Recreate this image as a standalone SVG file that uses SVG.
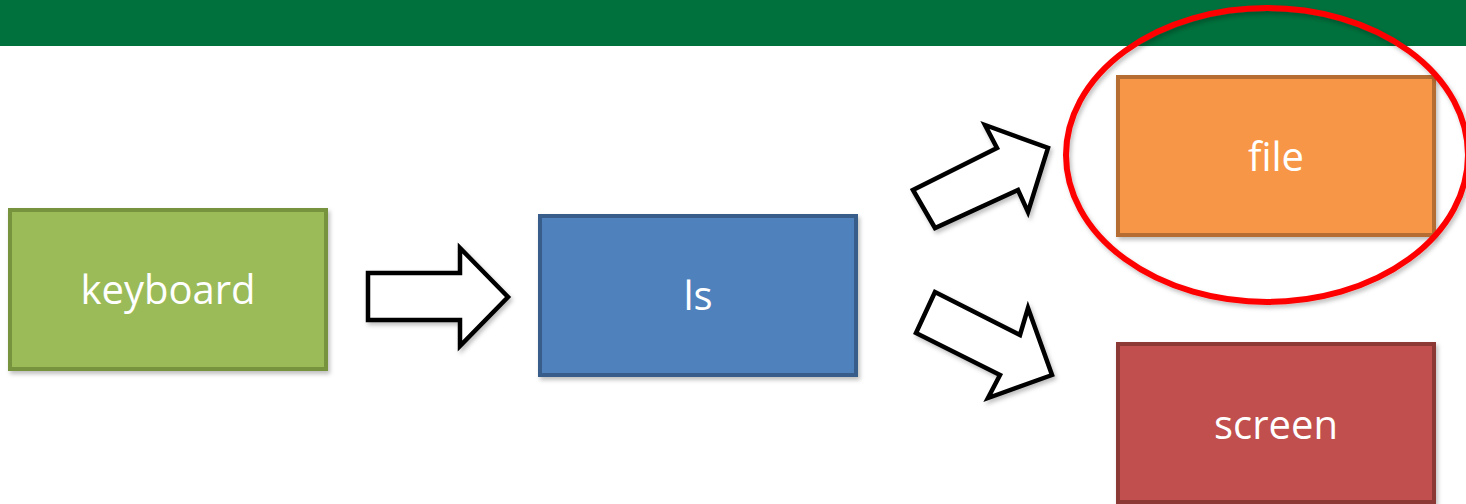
<svg xmlns="http://www.w3.org/2000/svg" width="1466" height="504" viewBox="0 0 1466 504">
<style>
.box{stroke-width:4;}
.lbl{font-family:"Open Sans","Noto Sans",sans-serif;font-size:40px;fill:#ffffff;text-anchor:middle;}
.arr{fill:#ffffff;stroke:#000000;stroke-width:4.5;stroke-linejoin:miter;}
</style>
<defs>
<filter id="sh" x="-20%" y="-20%" width="140%" height="140%">
<feDropShadow dx="2" dy="3" stdDeviation="2" flood-color="#000" flood-opacity="0.25"/>
</filter>
</defs>
<rect x="0" y="0" width="1466" height="46" fill="#00703C"/>
<g id="keyboard">
<rect class="box" x="10" y="210" width="316" height="159" fill="#9BBB59" stroke="#77933C" filter="url(#sh)"/>
<text class="lbl" x="168" y="304">keyboard</text>
</g>
<g id="ls">
<rect class="box" x="540" y="216" width="316" height="159" fill="#4F81BD" stroke="#385D8A" filter="url(#sh)"/>
<text class="lbl" x="698" y="310">ls</text>
</g>
<g id="file">
<rect class="box" x="1118" y="77" width="316" height="158" fill="#F79646" stroke="#B66D31" filter="url(#sh)"/>
<text class="lbl" x="1276" y="171">file</text>
</g>
<g id="screen">
<rect class="box" x="1118" y="344" width="316" height="158" fill="#C0504D" stroke="#8C3836" filter="url(#sh)"/>
<text class="lbl" x="1276" y="439">screen</text>
</g>
<g id="connectors">
<polygon class="arr" filter="url(#sh)" points="368,273 460,273 460,248 508,297 460,346 460,320 368,320"/>
<polygon class="arr" filter="url(#sh)" points="913,190 935,228 1018,190 1028,212 1048,148 985,125 997,148"/>
<polygon class="arr" filter="url(#sh)" points="935,292 916,333 1000,375 988,398 1052,375 1028,308 1020,335"/>
</g>
<g id="highlight">
<ellipse cx="1267" cy="155" rx="201" ry="147" fill="none" stroke="#FF0000" stroke-width="6" filter="url(#sh)"/>
</g>
</svg>
